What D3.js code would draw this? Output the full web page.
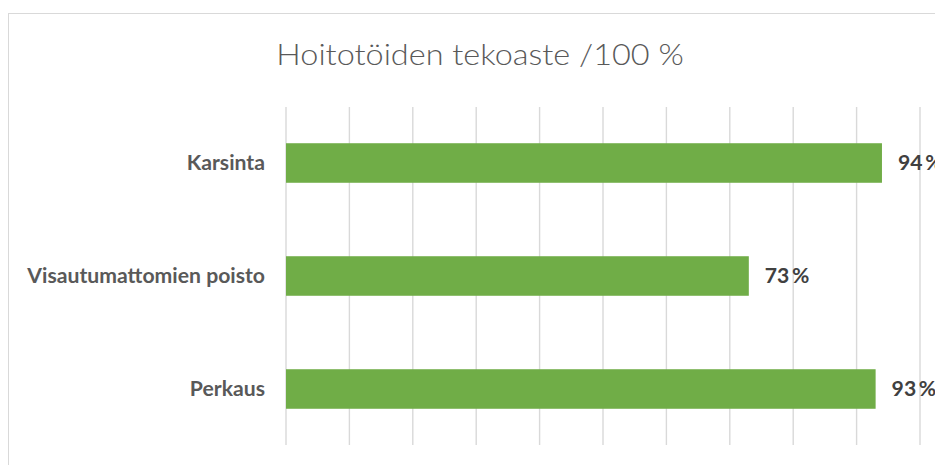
<!DOCTYPE html>
<html>
<head>
    <script src="https://d3js.org/d3.v7.min.js"></script>
    <style>
        body {margin: 0; font-family: Lato, Carlito, Calibri, sans-serif; background: #fff;}
        svg {display: block;}
        .grid line { stroke: #d9d9d9; stroke-width: 1.4px; }
        .bar { fill: #70ad47; }
    </style>
</head>
<body>
    <svg width="935" height="465"></svg>
    <script>
        // chart data
        let categories = ["Karsinta", "Visautumattomien poisto", "Perkaus"];
        let values = [94, 73, 93];
        let tickValues = [0, 10, 20, 30, 40, 50, 60, 70, 80, 90, 100];
        let title = "Hoitotöiden tekoaste /100 %";

        let svg = d3.select("svg");
        let stretch = 1.06; // the source text is a bit wider than Lato

        // chart frame (right and bottom fall outside the picture)
        svg.append("rect")
            .attr("x", 8.5).attr("y", 13.5)
            .attr("width", 1000).attr("height", 500)
            .attr("fill", "none")
            .attr("stroke", "#d9d9d9");

        let x = d3.scaleLinear().domain([0, 100]).range([286, 920]);
        let y = d3.scaleBand().domain(categories).range([106.5, 445.5]).paddingInner(0.65).paddingOuter(0.325);

        // vertical gridlines
        svg.append("g").attr("class", "grid")
            .selectAll("line")
            .data(tickValues)
            .enter()
            .append("line")
            .attr("x1", d => x(d)).attr("x2", d => x(d))
            .attr("y1", 107).attr("y2", 445);

        svg.selectAll(".bar")
            .data(values)
            .enter()
            .append("rect")
            .attr("class", "bar")
            .attr("x", x(0))
            .attr("y", (d, i) => y(categories[i]))
            .attr("width", d => x(d) - x(0))
            .attr("height", y.bandwidth());

        // category labels
        svg.selectAll(".cat")
            .data(categories)
            .enter()
            .append("text")
            .attr("class", "cat")
            .attr("transform", d => `translate(265,${y(d) + y.bandwidth() / 2}) scale(${stretch},1)`)
            .attr("dy", "0.35em")
            .attr("text-anchor", "end")
            .attr("font-size", 20)
            .attr("font-weight", "bold")
            .attr("fill", "#595959")
            .text(d => d);

        // value labels (the first one runs off the right edge, as in the source)
        svg.selectAll(".val")
            .data(values)
            .enter()
            .append("text")
            .attr("class", "val")
            .attr("transform", (d, i) => `translate(${x(d) + 16},${y(categories[i]) + y.bandwidth() / 2}) scale(${stretch},1)`)
            .attr("dy", "0.35em")
            .attr("font-size", 20)
            .attr("font-weight", "bold")
            .attr("fill", "#404040")
            .text(d => d + "\u2009%");

        svg.append("text")
            .attr("transform", "translate(480,65) scale(1.1,1)")
            .attr("text-anchor", "middle")
            .attr("font-size", 29.5)
            .attr("font-weight", 300)
            .attr("fill", "#595959")
            .text(title);
    </script>
</body>
</html>
